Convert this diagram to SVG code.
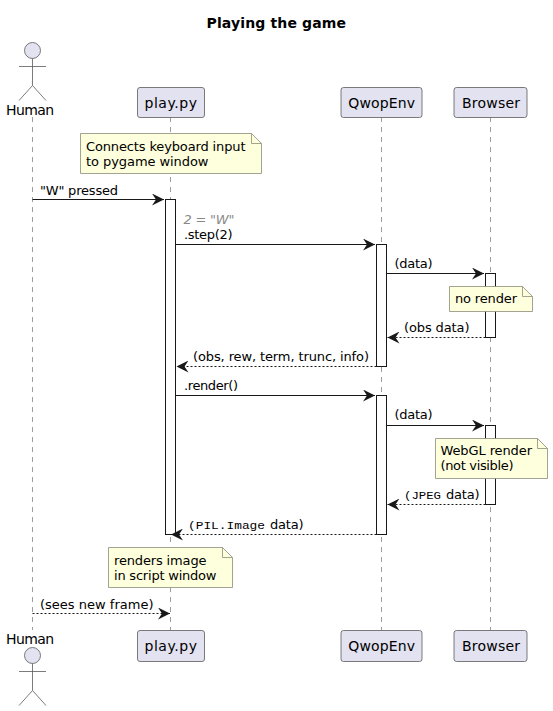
<svg xmlns="http://www.w3.org/2000/svg" width="553" height="711" viewBox="0 0 553 711">
<defs>
<marker id="a" markerUnits="userSpaceOnUse" markerWidth="14" markerHeight="12" refX="12" refY="6" orient="auto"><path d="M0,0 L12,6 L0,12 L4,6 Z" fill="#181818"/></marker>
</defs>
<style>
text{font-family:"DejaVu Sans",sans-serif;font-size:13px;fill:#000}
.p{font-size:14px}
.b{fill:#E2E2F0;stroke:#5B5B5B;stroke-width:.8}
.l{stroke:#5B5B5B;stroke-width:.6;stroke-dasharray:5 5;fill:none}
.act{fill:#fff;stroke:#181818;stroke-width:1}
.n{fill:#FEFFDD;stroke:#8B8B7A;stroke-width:.8}
.f{fill:none;stroke:#8B8B7A;stroke-width:.8}
.m{stroke:#181818;stroke-width:1;fill:none;marker-end:url(#a)}
.d{stroke-dasharray:2 2}
.s{stroke:#5B5B5B;stroke-width:.8;fill:none}
.mono{font-family:"Liberation Mono","DejaVu Sans Mono",monospace;font-size:10.5px}
</style>
<rect width="553" height="711" fill="#fff"/>
<text x="206.5" y="28" textLength="139.5" style="font-size:14px;font-weight:bold">Playing the game</text>
<g id="lifelines">
<path class="l" d="M32.5,117V630"/><path class="l" d="M170.5,117V630"/><path class="l" d="M381.5,117V630"/><path class="l" d="M490.5,117V630"/>
</g>
<g id="human-top"><circle class="b" cx="32.5" cy="50.5" r="8"/><path class="s" d="M32.5,58.5V85.5M19,66.5H46M32.5,85.5L19,100.5M32.5,85.5L46,100.5"/><text class="p" x="6" y="115" textLength="48">Human</text></g>
<g id="human-bottom"><text class="p" x="6" y="644" textLength="48">Human</text><circle class="b" cx="32.5" cy="655.5" r="8"/><path class="s" d="M32.5,663.5V690.5M19,671.5H46M32.5,690.5L19,705.5M32.5,690.5L46,705.5"/></g>
<g id="play-top"><rect class="b" x="137.5" y="87.5" width="67" height="30" rx="2.5"/><text class="p" x="144.5" y="107.5" textLength="52.5">play.py</text></g>
<g id="play-bottom"><rect class="b" x="137.5" y="630.5" width="67" height="31" rx="2.5"/><text class="p" x="144.5" y="651" textLength="52.5">play.py</text></g>
<g id="qwop-top"><rect class="b" x="341" y="87.5" width="81" height="30" rx="2.5"/><text class="p" x="348.3" y="107.5" textLength="66.7">QwopEnv</text></g>
<g id="qwop-bottom"><rect class="b" x="341" y="630.5" width="81" height="31" rx="2.5"/><text class="p" x="348.3" y="651" textLength="66.7">QwopEnv</text></g>
<g id="browser-top"><rect class="b" x="454" y="87.5" width="73" height="30" rx="2.5"/><text class="p" x="462" y="107.5" textLength="58">Browser</text></g>
<g id="browser-bottom"><rect class="b" x="454" y="630.5" width="73" height="31" rx="2.5"/><text class="p" x="462" y="651" textLength="58">Browser</text></g>
<g id="activations">
<rect class="act" x="165.5" y="199.5" width="10" height="335"/>
<rect class="act" x="376.5" y="244.5" width="10" height="122"/>
<rect class="act" x="376.5" y="395.5" width="10" height="139"/>
<rect class="act" x="485.5" y="273.5" width="10" height="64"/>
<rect class="act" x="485.5" y="425.5" width="10" height="79"/>
</g>
<g id="note-keyboard"><path class="n" d="M80.5,133.5H251.5L261.5,143.5V173.5H80.5Z"/><path class="f" d="M251.5,133.5V143.5H261.5"/><text x="86" y="151" textLength="159.5">Connects keyboard input</text><text x="86" y="166" textLength="122.5">to pygame window</text></g>
<g id="note-norender"><path class="n" d="M449.5,286.5H522.5L532.5,296.5V311.5H449.5Z"/><path class="f" d="M522.5,286.5V296.5H532.5"/><text x="455" y="303" textLength="62">no render</text></g>
<g id="note-webgl"><path class="n" d="M435.5,438.5H537.5L547.5,448.5V478.5H435.5Z"/><path class="f" d="M537.5,438.5V448.5H547.5"/><text x="440.5" y="455" textLength="91.5">WebGL render</text><text x="440.5" y="470" textLength="73">(not visible)</text></g>
<g id="note-renders"><path class="n" d="M108.5,547.5H222.5L232.5,557.5V587.5H108.5Z"/><path class="f" d="M222.5,547.5V557.5H232.5"/><text x="114" y="565" textLength="92.5">renders image</text><text x="114" y="580" textLength="102.5">in script window</text></g>
<g id="connectors">
<path class="m" d="M32.5,199.5H164"/>
<path class="m" d="M175.5,244.5H375"/>
<path class="m" d="M386.5,273.5H484"/>
<path class="m d" d="M485.5,337.5H387.5"/>
<path class="m d" d="M376.5,366.5H176.5"/>
<path class="m" d="M175.5,395.5H375"/>
<path class="m" d="M386.5,425.5H484"/>
<path class="m d" d="M485.5,504.5H387.5"/>
<path class="m d" d="M376.5,534.5H171"/>
<path class="m d" d="M32.5,613.5H170"/>
</g>
<g id="labels">
<text x="40" y="195" textLength="78">"W" pressed</text>
<text x="183.5" y="224" font-style="italic" style="fill:#888" textLength="51">2 = "W"</text>
<text x="184" y="239" textLength="48.5">.step(2)</text>
<text x="394.5" y="268" textLength="38">(data)</text>
<text x="404" y="332" textLength="65.5">(obs data)</text>
<text x="193" y="361" textLength="176">(obs, rew, term, trunc, info)</text>
<text x="184" y="390" textLength="54">.render()</text>
<text x="394.5" y="419" textLength="38">(data)</text>
<text class="mono" x="404" y="499" textLength="37" lengthAdjust="spacingAndGlyphs">(JPEG</text><text x="446" y="499" textLength="33.5">data)</text>
<text class="mono" x="188" y="529" textLength="77" lengthAdjust="spacingAndGlyphs">(PIL.Image</text><text x="270" y="529" textLength="33.5">data)</text>
<text x="40" y="609" textLength="113.5">(sees new frame)</text>
</g>
</svg>
